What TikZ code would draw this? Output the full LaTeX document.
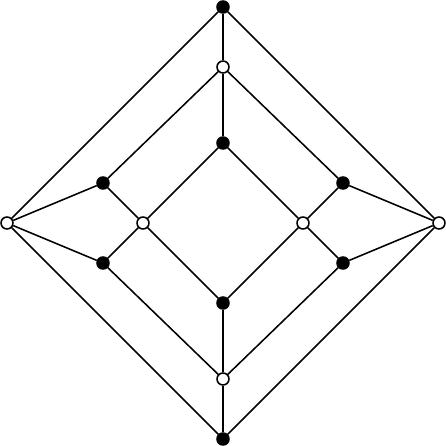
\documentclass[tikz,border=0pt]{standalone}
\begin{document}
\begin{tikzpicture}[x=0.025cm,y=0.025cm,line width=1.1pt,
      bvert/.style={circle,draw,fill=black,inner sep=0pt,minimum size=0.3cm},
      wvert/.style={circle,draw,fill=white,inner sep=0pt,minimum size=0.3cm}]
      \useasboundingbox (-223,-223) rectangle (223,223);
      \path (0,216) node[bvert] (T) {};
      \path (0,156) node[wvert] (TW) {};
      \path (0,80) node[bvert] (TI) {};
      \path (-120,40) node[bvert] (UL) {};
      \path (120,40) node[bvert] (UR) {};
      \path (-216,0) node[wvert] (L) {};
      \path (-80,0) node[wvert] (LI) {};
      \path (80,0) node[wvert] (RI) {};
      \path (216,0) node[wvert] (R) {};
      \path (-120,-40) node[bvert] (DL) {};
      \path (120,-40) node[bvert] (DR) {};
      \path (0,-80) node[bvert] (BI) {};
      \path (0,-156) node[wvert] (BW) {};
      \path (0,-216) node[bvert] (B) {};
      \draw (T) -- (L) -- (B) -- (R) -- (T);
      \draw (T) -- (TW) -- (TI);
      \draw (B) -- (BW) -- (BI);
      \draw (TI) -- (LI) -- (BI) -- (RI) -- (TI);
      \draw (TW) -- (UL) -- (LI) -- (DL) -- (BW);
      \draw (TW) -- (UR) -- (RI) -- (DR) -- (BW);
      \draw (L) -- (UL);
      \draw (L) -- (DL);
      \draw (R) -- (UR);
      \draw (R) -- (DR);
     \end{tikzpicture}
\end{document}
